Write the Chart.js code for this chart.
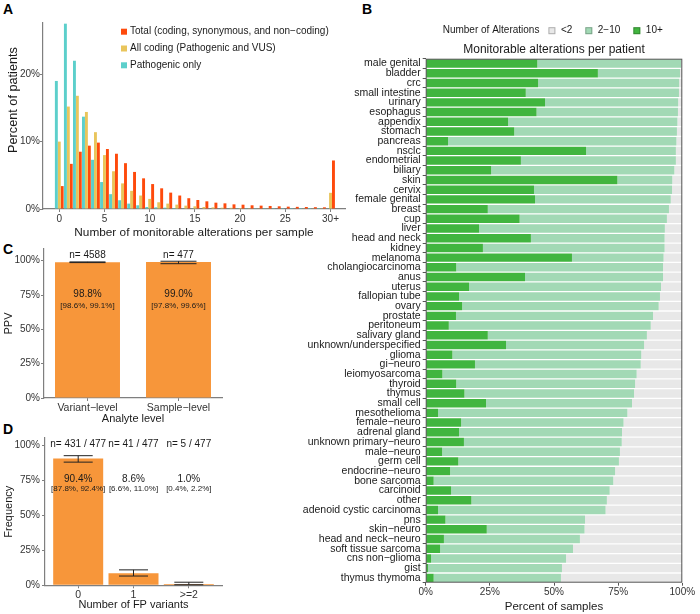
<!DOCTYPE html>
<html>
<head>
<meta charset="utf-8">
<script src="https://cdn.jsdelivr.net/npm/chart.js@4.4.1/dist/chart.umd.min.js"></script>
<style>
  body { margin: 0; background: #fff; width: 700px; height: 614px; position: relative; overflow: hidden; font-family: "Liberation Sans", Arial, sans-serif; }
  canvas { position: absolute; }
  .tag { position: absolute; font-weight: bold; font-size: 14px; color: #000; }
</style>
</head>
<body>
<div class="tag" style="left:3px;top:1px">A</div>
<div class="tag" style="left:362px;top:1px">B</div>
<div class="tag" style="left:3px;top:241px">C</div>
<div class="tag" style="left:3px;top:421px">D</div>
<canvas id="chartA" width="360" height="240" style="left:0;top:0"></canvas>
<canvas id="chartB" width="400" height="614" style="left:300px;top:0"></canvas>
<canvas id="chartC" width="240" height="186" style="left:0;top:240px"></canvas>
<canvas id="chartD" width="240" height="189" style="left:0;top:425px"></canvas>
<script>
// ---- panel A: alterations per sample ----
const countLabels = ['0','1','2','3','4','5','6','7','8','9','10','11','12','13','14','15','16','17','18','19','20','21','22','23','24','25','26','27','28','29','30+'];
const pathogenicOnly = [19.0, 27.5, 22.0, 13.7, 7.3, 4.0, 2.2, 1.3, 0.8, 0.55, 0.3, 0.25, 0.2, 0.15, 0.1, 0.1, 0.08, 0.06, 0.05, 0.05, 0.04, 0.03, 0.03, 0.02, 0.02, 0.02, 0.02, 0.01, 0.01, 0.01, 0.05];
const allCoding = [10.0, 15.2, 16.8, 14.4, 11.4, 8.0, 5.6, 3.8, 2.7, 2.0, 1.5, 1.0, 0.8, 0.65, 0.5, 0.4, 0.3, 0.25, 0.2, 0.18, 0.15, 0.12, 0.1, 0.1, 0.08, 0.07, 0.06, 0.05, 0.05, 0.04, 2.4];
const totalAlts = [3.4, 6.7, 8.5, 9.4, 9.85, 8.9, 8.2, 6.8, 5.5, 4.55, 3.7, 3.07, 2.43, 2.0, 1.6, 1.34, 1.14, 0.94, 0.84, 0.69, 0.64, 0.55, 0.5, 0.45, 0.4, 0.35, 0.32, 0.3, 0.27, 0.25, 7.2];

// ---- panel B: monitorable alterations per tumour type (% of samples) ----
const tumourTypes = ['male genital','bladder','crc','small intestine','urinary','esophagus','appendix','stomach','pancreas','nsclc','endometrial','biliary','skin','cervix','female genital','breast','cup','liver','head and neck','kidney','melanoma','cholangiocarcinoma','anus','uterus','fallopian tube','ovary','prostate','peritoneum','salivary gland','unknown/underspecified','glioma','gi\u2212neuro','leiomyosarcoma','thyroid','thymus','small cell','mesothelioma','female\u2212neuro','adrenal gland','unknown primary\u2212neuro','male\u2212neuro','germ cell','endocrine\u2212neuro','bone sarcoma','carcinoid','other','adenoid cystic carcinoma','pns','skin\u2212neuro','head and neck\u2212neuro','soft tissue sarcoma','cns non\u2212glioma','gist','thymus thymoma'];
const tenPlus = [43.5, 67.1, 43.8, 39.0, 46.5, 43.2, 32.1, 34.5, 8.7, 62.5, 37.1, 25.5, 74.7, 42.2, 42.6, 24.2, 36.6, 20.8, 41.0, 22.3, 57.0, 11.9, 38.7, 16.9, 13.0, 14.2, 11.8, 9.0, 24.2, 31.3, 10.4, 19.2, 6.5, 11.9, 15.1, 23.5, 4.8, 13.8, 13.0, 14.9, 6.4, 12.7, 9.5, 3.1, 9.9, 17.8, 4.8, 7.7, 23.8, 7.1, 5.6, 2.1, 0.9, 3.1];
const twoToTen = [56.0, 32.0, 55.0, 59.7, 51.9, 55.1, 66.0, 63.4, 89.0, 35.0, 60.4, 71.4, 21.4, 53.8, 52.9, 70.6, 57.4, 72.4, 52.1, 70.8, 35.7, 80.6, 53.8, 74.8, 78.3, 76.6, 76.8, 78.7, 62.0, 53.8, 73.6, 64.6, 75.7, 69.7, 66.1, 56.9, 73.8, 63.3, 63.5, 61.5, 69.3, 62.6, 64.3, 70.0, 61.8, 52.8, 65.3, 54.4, 38.1, 53.0, 51.8, 52.6, 52.2, 49.6];
const underTwo = [0.5, 0.9, 1.2, 1.3, 1.6, 1.7, 1.9, 2.1, 2.3, 2.5, 2.5, 3.1, 3.9, 4.0, 4.5, 5.2, 6.0, 6.8, 6.9, 6.9, 7.3, 7.5, 7.5, 8.3, 8.7, 9.2, 11.4, 12.3, 13.8, 14.9, 16.0, 16.2, 17.8, 18.4, 18.8, 19.6, 21.4, 22.9, 23.5, 23.6, 24.3, 24.7, 26.2, 26.9, 28.3, 29.4, 29.9, 37.9, 38.1, 39.9, 42.6, 45.3, 46.9, 47.3];

// ---- panel C: PPV ----
const analyteLevels = ['Variant\u2212level', 'Sample\u2212level'];
const ppv = [98.8, 99.0];
const ppvLow = [98.6, 97.8];
const ppvHigh = [99.1, 99.6];
const ppvN = ['n= 4588', 'n= 477'];
const ppvText = ['98.8%', '99.0%'];
const ppvCI = ['[98.6%, 99.1%]', '[97.8%, 99.6%]'];

// ---- panel D: FP variants per sample ----
const fpCounts = ['0', '1', '>=2'];
const fpFreq = [90.4, 8.6, 1.0];
const fpLow = [87.8, 6.6, 0.4];
const fpHigh = [92.4, 11.0, 2.2];
const fpN = ['n= 431 / 477', 'n= 41 / 477', 'n= 5 / 477'];
const fpText = ['90.4%', '8.6%', '1.0%'];
const fpCI = ['[87.8%, 92.4%]', '[6.6%, 11.0%]', '[0.4%, 2.2%]'];

const FONT = '"Liberation Sans", Arial, sans-serif';
Chart.defaults.font.family = FONT;
Chart.defaults.color = '#333';
Chart.defaults.animation = false;

const AXIS = '#7f7f7f';
const ORANGE = '#f7963a';

function axisGrid() {
  return { drawOnChartArea: false, drawTicks: true, tickLength: 3, color: AXIS, offset: false };
}

// legend and y title for panel A, drawn by hand (ggplot centres the title on the whole panel)
const legendA = {
  id: 'legendA',
  afterDraw(chart) {
    const ctx = chart.ctx;
    ctx.save();
    ctx.font = '10px ' + FONT;
    ctx.textBaseline = 'middle';
    chart.data.datasets.slice().reverse().forEach((ds, i) => {
      const y = 31.7 + i * 16.8;
      ctx.fillStyle = ds.backgroundColor;
      ctx.fillRect(121, y - 3, 6, 6);
      ctx.fillStyle = '#1a1a1a';
      ctx.fillText(ds.label, 130, y);
    });
    ctx.translate(13, 100);
    ctx.rotate(-Math.PI / 2);
    ctx.textAlign = 'center';
    ctx.font = '12.7px ' + FONT;
    ctx.fillText('Percent of patients', 0, 0);
    ctx.restore();
  }
};

// frame, title and key for panel B
const frameB = {
  id: 'frameB',
  afterDraw(chart) {
    const ctx = chart.ctx;
    const a = chart.chartArea;
    ctx.save();
    ctx.strokeStyle = '#555';
    ctx.lineWidth = 1;
    ctx.strokeRect(a.left + 0.5, a.top + 0.5, a.right - a.left - 1, a.bottom - a.top - 1);

    ctx.fillStyle = '#1a1a1a';
    ctx.font = '12px ' + FONT;
    ctx.textAlign = 'center';
    ctx.textBaseline = 'middle';
    ctx.fillText('Monitorable alterations per patient', (a.left + a.right) / 2, 50);

    ctx.textAlign = 'left';
    ctx.font = '10px ' + FONT;
    let x = 142.7;
    const y = 30.7;
    ctx.fillText('Number of Alterations', x, y);
    x += ctx.measureText('Number of Alterations').width + 9;
    chart.data.datasets.slice().reverse().forEach(ds => {
      ctx.fillStyle = ds.backgroundColor;
      ctx.fillRect(x, y - 3.5, 7, 7);
      ctx.strokeStyle = 'rgba(0,0,0,0.25)';
      ctx.strokeRect(x + 0.5, y - 3, 6, 6);
      x += 12.5;
      ctx.fillStyle = '#1a1a1a';
      ctx.fillText(ds.label, x, y);
      x += ctx.measureText(ds.label).width + 13;
    });
    ctx.restore();
  }
};

// error bars and text labels for panels C and D
const barNotes = {
  id: 'barNotes',
  afterDraw(chart, args, opts) {
    const ctx = chart.ctx;
    const ys = chart.scales.y;
    const bars = chart.getDatasetMeta(0).data;
    ctx.save();
    bars.forEach((bar, i) => {
      const lo = ys.getPixelForValue(opts.low[i]);
      const hi = ys.getPixelForValue(opts.high[i]);
      const half = opts.cap / 2;
      ctx.strokeStyle = '#222';
      ctx.lineWidth = 1;
      ctx.beginPath();
      ctx.moveTo(bar.x, lo); ctx.lineTo(bar.x, hi);
      ctx.moveTo(bar.x - half, lo); ctx.lineTo(bar.x + half, lo);
      ctx.moveTo(bar.x - half, hi); ctx.lineTo(bar.x + half, hi);
      ctx.stroke();

      ctx.fillStyle = '#1a1a1a';
      ctx.textAlign = 'center';
      ctx.textBaseline = 'middle';
      ctx.font = '10px ' + FONT;
      ctx.fillText(opts.n[i], bar.x, ys.getPixelForValue(opts.nAt));
      ctx.fillText(opts.pct[i], bar.x, ys.getPixelForValue(opts.pctAt));
      ctx.font = '8px ' + FONT;
      ctx.fillText(opts.ci[i], bar.x, ys.getPixelForValue(opts.ciAt));
    });
    ctx.restore();
  }
};

new Chart(document.getElementById('chartA'), {
  type: 'bar',
  data: {
    labels: countLabels.map((c, i) => i),
    datasets: [
      { label: 'Pathogenic only', data: pathogenicOnly, backgroundColor: '#5ccfcb' },
      { label: 'All coding (Pathogenic and VUS)', data: allCoding, backgroundColor: '#e9c55c' },
      { label: 'Total (coding, synonymous, and non\u2212coding)', data: totalAlts, backgroundColor: '#fe4a0c' }
    ]
  },
  options: {
    responsive: false,
    categoryPercentage: 0.97,
    barPercentage: 1,
    layout: { padding: { left: 0, right: 15, top: 23, bottom: 0 } },
    plugins: { legend: { display: false }, tooltip: { enabled: false } },
    scales: {
      x: {
        type: 'linear', min: -1.8, max: 31.6, offset: false,
        afterBuildTicks: s => { s.ticks = countLabels.map((c, i) => ({ value: i })).filter(t => t.value % 5 === 0); },
        afterFit: s => { s.height = 31; },
        ticks: { callback: v => countLabels[v], font: { size: 10 }, color: '#333', padding: 1, maxRotation: 0 },
        grid: axisGrid(),
        border: { color: AXIS, width: 1.2 },
        title: { display: true, text: 'Number of monitorable alterations per sample', font: { size: 11.8 }, color: '#1a1a1a', padding: 0 }
      },
      y: {
        min: 0, max: 27.6,
        afterFit: s => { s.width = 43; },
        ticks: { stepSize: 10, includeBounds: false, callback: v => v + '%', font: { size: 10 }, color: '#333', padding: 0 },
        grid: axisGrid(),
        border: { color: AXIS, width: 1.2 }
      }
    }
  },
  plugins: [legendA]
});

new Chart(document.getElementById('chartB'), {
  type: 'bar',
  data: {
    labels: tumourTypes,
    datasets: [
      { label: '10+', data: tenPlus, backgroundColor: '#41b53f' },
      { label: '2\u221210', data: twoToTen, backgroundColor: '#a2d9b5' },
      { label: '<2', data: underTwo, backgroundColor: '#e8e8e8' }
    ]
  },
  options: {
    responsive: false,
    indexAxis: 'y',
    categoryPercentage: 1,
    barPercentage: 0.87,
    layout: { padding: { left: 0, right: 17.7, top: 58.7, bottom: 0 } },
    plugins: { legend: { display: false }, tooltip: { enabled: false } },
    scales: {
      x: {
        stacked: true, min: 0, max: 100,
        afterFit: s => { s.height = 31.3; },
        ticks: { stepSize: 25, callback: v => v + '%', font: { size: 10 }, color: '#333', padding: 1, maxRotation: 0 },
        grid: { drawOnChartArea: false, drawTicks: true, tickLength: 3, color: '#555' },
        border: { display: false },
        title: { display: true, text: 'Percent of samples', font: { size: 11.5 }, color: '#1a1a1a', padding: 0 }
      },
      y: {
        stacked: true,
        afterFit: s => { s.width = 125.7; },
        ticks: { autoSkip: false, font: { size: 10.5 }, color: '#1a1a1a', padding: 2 },
        grid: { drawOnChartArea: false, drawTicks: true, tickLength: 3, color: '#555' },
        border: { display: false }
      }
    }
  },
  plugins: [frameB]
});

new Chart(document.getElementById('chartC'), {
  type: 'bar',
  data: {
    labels: analyteLevels.map((c, i) => i),
    datasets: [{ label: 'PPV', data: ppv, backgroundColor: ORANGE }]
  },
  options: {
    responsive: false,
    categoryPercentage: 1,
    barPercentage: 0.714,
    layout: { padding: { left: 0, right: 18, top: 9, bottom: 0 } },
    plugins: {
      legend: { display: false }, tooltip: { enabled: false },
      barNotes: { low: ppvLow, high: ppvHigh, n: ppvN, pct: ppvText, ci: ppvCI, nAt: 104.2, pctAt: 75.2, ciAt: 67.4, cap: 36 }
    },
    scales: {
      x: {
        type: 'linear', min: -0.478, max: 1.478, offset: false,
        afterBuildTicks: s => { s.ticks = analyteLevels.map((c, i) => ({ value: i })); },
        afterFit: s => { s.height = 28; },
        ticks: { callback: v => analyteLevels[v], font: { size: 10.5 }, color: '#333', padding: 1, maxRotation: 0 },
        grid: axisGrid(),
        border: { color: AXIS, width: 1.2 },
        title: { display: true, text: 'Analyte level', font: { size: 11 }, color: '#1a1a1a', padding: 0 }
      },
      y: {
        min: 0, max: 108.5,
        afterFit: s => { s.width = 44; },
        ticks: { stepSize: 25, includeBounds: false, callback: v => v + '%', font: { size: 10 }, color: '#333', padding: 1 },
        grid: axisGrid(),
        border: { color: AXIS, width: 1.2 },
        title: { display: true, text: 'PPV', font: { size: 11 }, color: '#1a1a1a', padding: { top: 2, bottom: 0 } }
      }
    }
  },
  plugins: [barNotes]
});

new Chart(document.getElementById('chartD'), {
  type: 'bar',
  data: {
    labels: fpCounts.map((c, i) => i),
    datasets: [{ label: 'Frequency', data: fpFreq, backgroundColor: ORANGE }]
  },
  options: {
    responsive: false,
    categoryPercentage: 1,
    barPercentage: 0.904,
    layout: { padding: { left: 0, right: 18, top: 13, bottom: 0 } },
    plugins: {
      legend: { display: false }, tooltip: { enabled: false },
      barNotes: { low: fpLow, high: fpHigh, n: fpN, pct: fpText, ci: fpCI, nAt: 100.7, pctAt: 75.8, ciAt: 68.6, cap: 29 }
    },
    scales: {
      x: {
        type: 'linear', min: -0.6, max: 2.6, offset: false,
        afterBuildTicks: s => { s.ticks = fpCounts.map((c, i) => ({ value: i })); },
        afterFit: s => { s.height = 28.7; },
        ticks: { callback: v => fpCounts[v], font: { size: 10.5 }, color: '#333', padding: 1, maxRotation: 0 },
        grid: axisGrid(),
        border: { color: AXIS, width: 1.2 },
        title: { display: true, text: 'Number of FP variants', font: { size: 11 }, color: '#1a1a1a', padding: { top: 0, bottom: 2 } }
      },
      y: {
        min: 0, max: 105,
        afterFit: s => { s.width = 45; },
        ticks: { stepSize: 25, includeBounds: false, callback: v => v + '%', font: { size: 10 }, color: '#333', padding: 2 },
        grid: axisGrid(),
        border: { color: AXIS, width: 1.2 },
        title: { display: true, text: 'Frequency', font: { size: 11 }, color: '#1a1a1a', padding: { top: 2, bottom: 0 } }
      }
    }
  },
  plugins: [barNotes]
});
</script>
</body>
</html>
